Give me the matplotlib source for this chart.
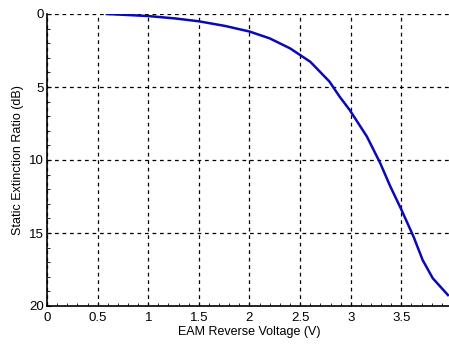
import matplotlib
matplotlib.use("Agg")
import matplotlib.pyplot as plt
from matplotlib.ticker import MultipleLocator

voltage = [0.59, 0.8, 1.0, 1.26, 1.5, 1.76, 2.0, 2.2, 2.4, 2.5, 2.6, 2.79, 2.89, 2.99, 3.16, 3.29, 3.39, 3.5, 3.62, 3.71, 3.81, 3.96]
extinction = [0.0, 0.07, 0.14, 0.3, 0.5, 0.82, 1.2, 1.67, 2.35, 2.81, 3.27, 4.63, 5.66, 6.58, 8.4, 10.2, 11.8, 13.4, 15.25, 16.85, 18.1, 19.25]
xticks = [0, 0.5, 1, 1.5, 2, 2.5, 3, 3.5, 4]
xticklabels = ["0", "0.5", "1", "1.5", "2", "2.5", "3", "3.5", "4"]
yticks = [0, 5, 10, 15, 20]

plt.rcParams['font.family'] = ['Liberation Sans', 'DejaVu Sans']
fig = plt.figure(figsize=(4.49, 3.46), dpi=100)
ax = fig.add_axes([47/449, 1-306/346, (452-47)/449, (306-14)/346])
ax.plot(voltage, extinction, color='#0a0ab4', lw=1.8)
ax.set_xlim(0, 4)
ax.set_ylim(20, 0)
ax.set_xticks(xticks)
ax.set_xticklabels(xticklabels)
ax.set_yticks(yticks)
ax.xaxis.set_minor_locator(MultipleLocator(0.1))
ax.yaxis.set_minor_locator(MultipleLocator(1))
ax.tick_params(which='both', direction='in', labelsize=9.5, colors='black')
ax.tick_params(axis='x', which='major', length=3, pad=4)
ax.tick_params(axis='y', which='major', length=3, pad=2)
ax.tick_params(which='minor', length=2)
ax.grid(True, which='major', color='black', linestyle=(0, (3, 3)), lw=0.9)
for s in ['top', 'right']:
    ax.spines[s].set_visible(False)
ax.spines['left'].set_linewidth(1.2)
ax.spines['bottom'].set_linewidth(1.2)
ax.set_xlabel('EAM Reverse Voltage (V)', fontsize=9, labelpad=2)
ax.set_ylabel('Static Extinction Ratio (dB)', fontsize=9, labelpad=4)
fig.savefig('out.png', dpi=100)
